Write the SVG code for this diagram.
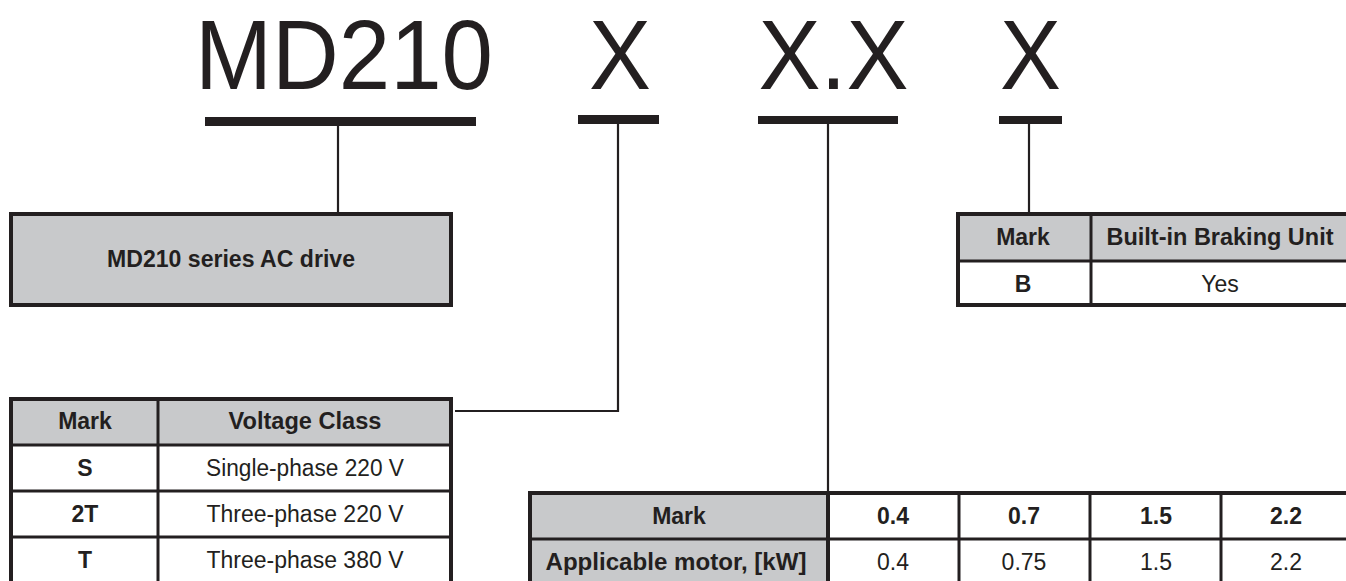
<svg xmlns="http://www.w3.org/2000/svg" width="1346" height="581" viewBox="0 0 1346 581">
<style>
.big{font-family:"Liberation Sans",Arial,sans-serif;font-size:98px;fill:#231f20}
.b{font-family:"Liberation Sans",Arial,sans-serif;font-size:23px;font-weight:bold;fill:#231f20;text-anchor:middle}
.r{font-family:"Liberation Sans",Arial,sans-serif;font-size:23px;fill:#231f20;text-anchor:middle}
.bar{fill:#231f20}
.frame{fill:none;stroke:#231f20;stroke-width:4}
.grid{stroke:#231f20;stroke-width:3;fill:none}
.gray{fill:#c8c9cb}
.conn{stroke:#231f20;stroke-width:2.2;fill:none}
</style>
<g id="code">
<text class="big" x="195" y="89" textLength="298" lengthAdjust="spacingAndGlyphs">MD210</text>
<text class="big" x="589" y="89" textLength="62" lengthAdjust="spacingAndGlyphs">X</text>
<text class="big" x="758.5" y="89" textLength="150" lengthAdjust="spacingAndGlyphs">X.X</text>
<text class="big" x="1000" y="89" textLength="61" lengthAdjust="spacingAndGlyphs">X</text>
<rect class="bar" x="205" y="117" width="271" height="9"/>
<rect class="bar" x="578" y="115" width="81" height="9"/>
<rect class="bar" x="758" y="116" width="140" height="8"/>
<rect class="bar" x="999" y="116" width="63" height="8"/>
</g>
<g id="connectors">
<line class="conn" x1="338" y1="125" x2="338" y2="212"/>
<polyline class="conn" points="618,124 618,411 455,411"/>
<line class="conn" x1="828" y1="124" x2="828" y2="492"/>
<line class="conn" x1="1029" y1="124" x2="1029" y2="212"/>
</g>
<g id="series-box">
<rect class="gray" x="11" y="214" width="440" height="91"/>
<rect class="frame" x="11" y="214" width="440" height="91"/>
<text class="b" x="231" y="267" textLength="248" lengthAdjust="spacingAndGlyphs">MD210 series AC drive</text>
</g>
<g id="braking-table">
<rect class="gray" x="958" y="214" width="400" height="47"/>
<line class="grid" x1="958" y1="261" x2="1358" y2="261"/>
<line class="grid" x1="1091" y1="214" x2="1091" y2="305"/>
<rect class="frame" x="958" y="214" width="400" height="91"/>
<text class="b" x="1023" y="245">Mark</text>
<text class="b" x="1220" y="245" textLength="227" lengthAdjust="spacingAndGlyphs">Built-in Braking Unit</text>
<text class="b" x="1023" y="292">B</text>
<text class="r" x="1220" y="292">Yes</text>
</g>
<g id="voltage-table">
<rect class="gray" x="11" y="399" width="440" height="46"/>
<line class="grid" x1="11" y1="445" x2="451" y2="445"/>
<line class="grid" x1="11" y1="491" x2="451" y2="491"/>
<line class="grid" x1="11" y1="537" x2="451" y2="537"/>
<line class="grid" x1="158" y1="399" x2="158" y2="590"/>
<rect class="frame" x="11" y="399" width="440" height="200"/>
<text class="b" x="85" y="429">Mark</text>
<text class="b" x="305" y="429" textLength="153" lengthAdjust="spacingAndGlyphs">Voltage Class</text>
<text class="b" x="85" y="476">S</text>
<text class="r" x="305" y="476" textLength="198" lengthAdjust="spacingAndGlyphs">Single-phase 220 V</text>
<text class="b" x="85" y="522">2T</text>
<text class="r" x="305" y="522" textLength="197" lengthAdjust="spacingAndGlyphs">Three-phase 220 V</text>
<text class="b" x="85" y="568">T</text>
<text class="r" x="305" y="568" textLength="197" lengthAdjust="spacingAndGlyphs">Three-phase 380 V</text>
</g>
<g id="power-table">
<rect class="gray" x="530" y="493" width="298" height="100"/>
<line class="grid" x1="530" y1="539" x2="1360" y2="539"/>
<line class="frame" x1="828" y1="493" x2="828" y2="590"/>
<line class="grid" x1="959" y1="493" x2="959" y2="590"/>
<line class="grid" x1="1090" y1="493" x2="1090" y2="590"/>
<line class="grid" x1="1221" y1="493" x2="1221" y2="590"/>
<rect class="frame" x="530" y="493" width="830" height="120"/>
<text class="b" x="679" y="524">Mark</text>
<text class="b" x="893" y="524">0.4</text>
<text class="b" x="1024" y="524">0.7</text>
<text class="b" x="1156" y="524">1.5</text>
<text class="b" x="1286" y="524">2.2</text>
<text class="b" x="676" y="570" textLength="261" lengthAdjust="spacingAndGlyphs">Applicable motor, [kW]</text>
<text class="r" x="893" y="570">0.4</text>
<text class="r" x="1024" y="570">0.75</text>
<text class="r" x="1156" y="570">1.5</text>
<text class="r" x="1286" y="570">2.2</text>
</g>
</svg>
